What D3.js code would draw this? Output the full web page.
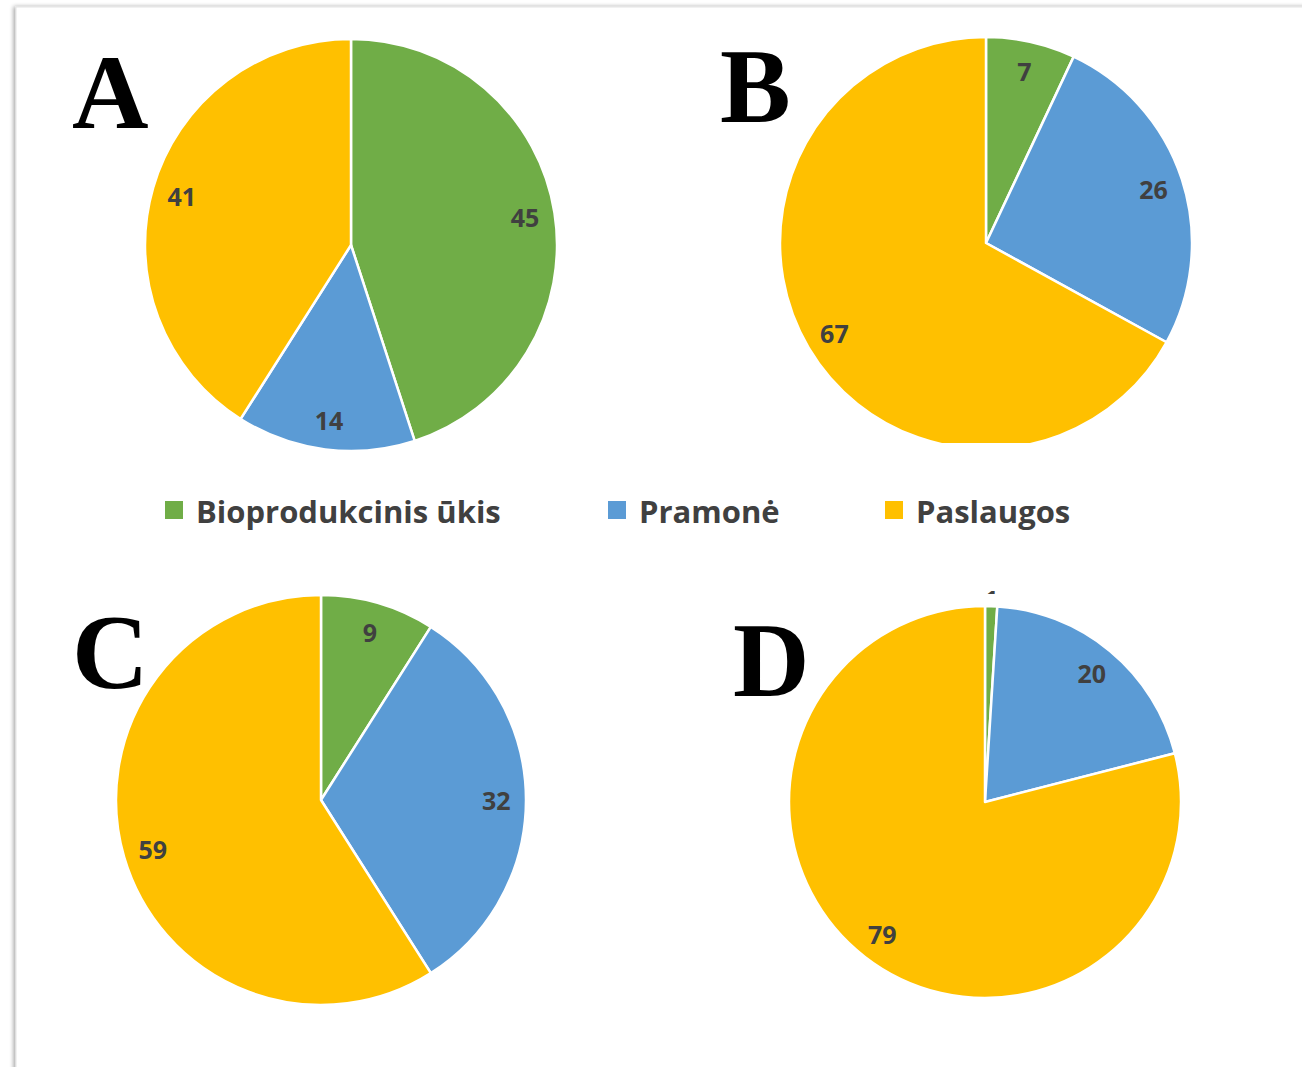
<html>
<head>
<style>
  body { margin: 0; background: #fff; }
  text { font-family: "Open Sans", "Noto Sans", sans-serif; }
</style>
</head>
<body>
<div id="chart"></div>
<script src="https://d3js.org/d3.v7.min.js"></script>
<script>
// sectors and their colours
var categories = ['Bioprodukcinis ūkis', 'Pramonė', 'Paslaugos'];
var colors = ['#70AD47', '#5B9BD5', '#FFC000'];

// shares (%) for each panel
var panelA = [45, 14, 41];
var panelB = [7, 26, 67];
var panelC = [9, 32, 59];
var panelD = [1, 20, 79];
var panelLetters = ['A', 'B', 'C', 'D'];

var width = 1302, height = 1067;

var svg = d3.select('#chart').append('svg')
  .attr('width', width).attr('height', height);

var defs = svg.append('defs');
var shadow = defs.append('filter').attr('id', 'shadow')
  .attr('x', '-5%').attr('y', '-5%').attr('width', '110%').attr('height', '110%');
shadow.append('feGaussianBlur').attr('in', 'SourceAlpha').attr('stdDeviation', 2);
shadow.append('feOffset').attr('dx', -2).attr('dy', 0).attr('result', 'b');
shadow.append('feComponentTransfer').append('feFuncA').attr('type', 'linear').attr('slope', 0.35);
var merge = shadow.append('feMerge');
merge.append('feMergeNode');
merge.append('feMergeNode').attr('in', 'SourceGraphic');

// page card with a soft edge on the left and top
svg.append('rect').attr('x', 16).attr('y', 7).attr('width', 1300).attr('height', 1080)
  .attr('fill', '#fff').attr('stroke', '#e4e4e4').attr('stroke-width', 1)
  .attr('filter', 'url(#shadow)');

// clip regions: B is cut at the bottom, the small D label is cut too
defs.append('clipPath').attr('id', 'clipB').append('rect')
  .attr('x', 700).attr('y', 0).attr('width', 600).attr('height', 443);
defs.append('clipPath').attr('id', 'clipD').append('rect')
  .attr('x', 900).attr('y', 400).attr('width', 200).attr('height', 194);

var panels = [
  { values: panelA, cx: 351, cy: 245, r: 206, letterX: 72, letterY: 128, clip: null },
  { values: panelB, cx: 986, cy: 243, r: 206, letterX: 720, letterY: 122, clip: 'clipB' },
  { values: panelC, cx: 321, cy: 800, r: 205, letterX: 72, letterY: 688, clip: null },
  { values: panelD, cx: 985, cy: 802, r: 196, letterX: 733, letterY: 696, clip: null }
];

var pie = d3.pie().sort(null).value(function(d){ return d; });

panels.forEach(function(p, i){
  var arcs = pie(p.values);
  var arc = d3.arc().innerRadius(0).outerRadius(p.r);
  var labelArc = d3.arc().innerRadius(p.r * 0.855).outerRadius(p.r * 0.855);
  var outerArc = d3.arc().innerRadius(p.r * 1.035).outerRadius(p.r * 1.035);

  var g = svg.append('g');
  if (p.clip) { g.attr('clip-path', 'url(#' + p.clip + ')'); }
  var pg = g.append('g').attr('transform', 'translate(' + p.cx + ',' + p.cy + ')');

  pg.selectAll('path').data(arcs).enter().append('path')
    .attr('d', arc)
    .attr('fill', function(d, j){ return colors[j]; })
    .attr('stroke', '#fff').attr('stroke-width', 2.5)
    .attr('stroke-linejoin', 'round');

  // value labels
  arcs.forEach(function(d, j){
    var small = d.value < 3;
    var pos = small ? outerArc.centroid(d) : labelArc.centroid(d);
    var t = (small ? svg.append('g').attr('clip-path', 'url(#clipD)') : pg);
    t.append('text')
      .attr('x', small ? pos[0] + p.cx : pos[0])
      .attr('y', small ? pos[1] + p.cy : pos[1])
      .attr('text-anchor', 'middle')
      .attr('dominant-baseline', 'central')
      .attr('font-size', 25).attr('font-weight', 700)
      .attr('fill', '#404040')
      .text(d.value);
  });

  svg.append('text')
    .attr('x', p.letterX).attr('y', p.letterY)
    .style('font-family', '"Liberation Serif", "DejaVu Serif", serif')
    .attr('font-size', 106).attr('font-weight', 700)
    .attr('fill', '#000')
    .text(panelLetters[i]);
});

// legend
var legendX = [165, 608, 885];
var legend = svg.append('g');
categories.forEach(function(c, j){
  legend.append('rect')
    .attr('x', legendX[j]).attr('y', 501).attr('width', 18).attr('height', 18)
    .attr('fill', colors[j]);
  legend.append('text')
    .attr('x', legendX[j] + 31).attr('y', 511)
    .attr('dominant-baseline', 'central')
    .attr('font-size', 31).attr('font-weight', 700)
    .attr('fill', '#404040')
    .text(c);
});
</script>
</body>
</html>
